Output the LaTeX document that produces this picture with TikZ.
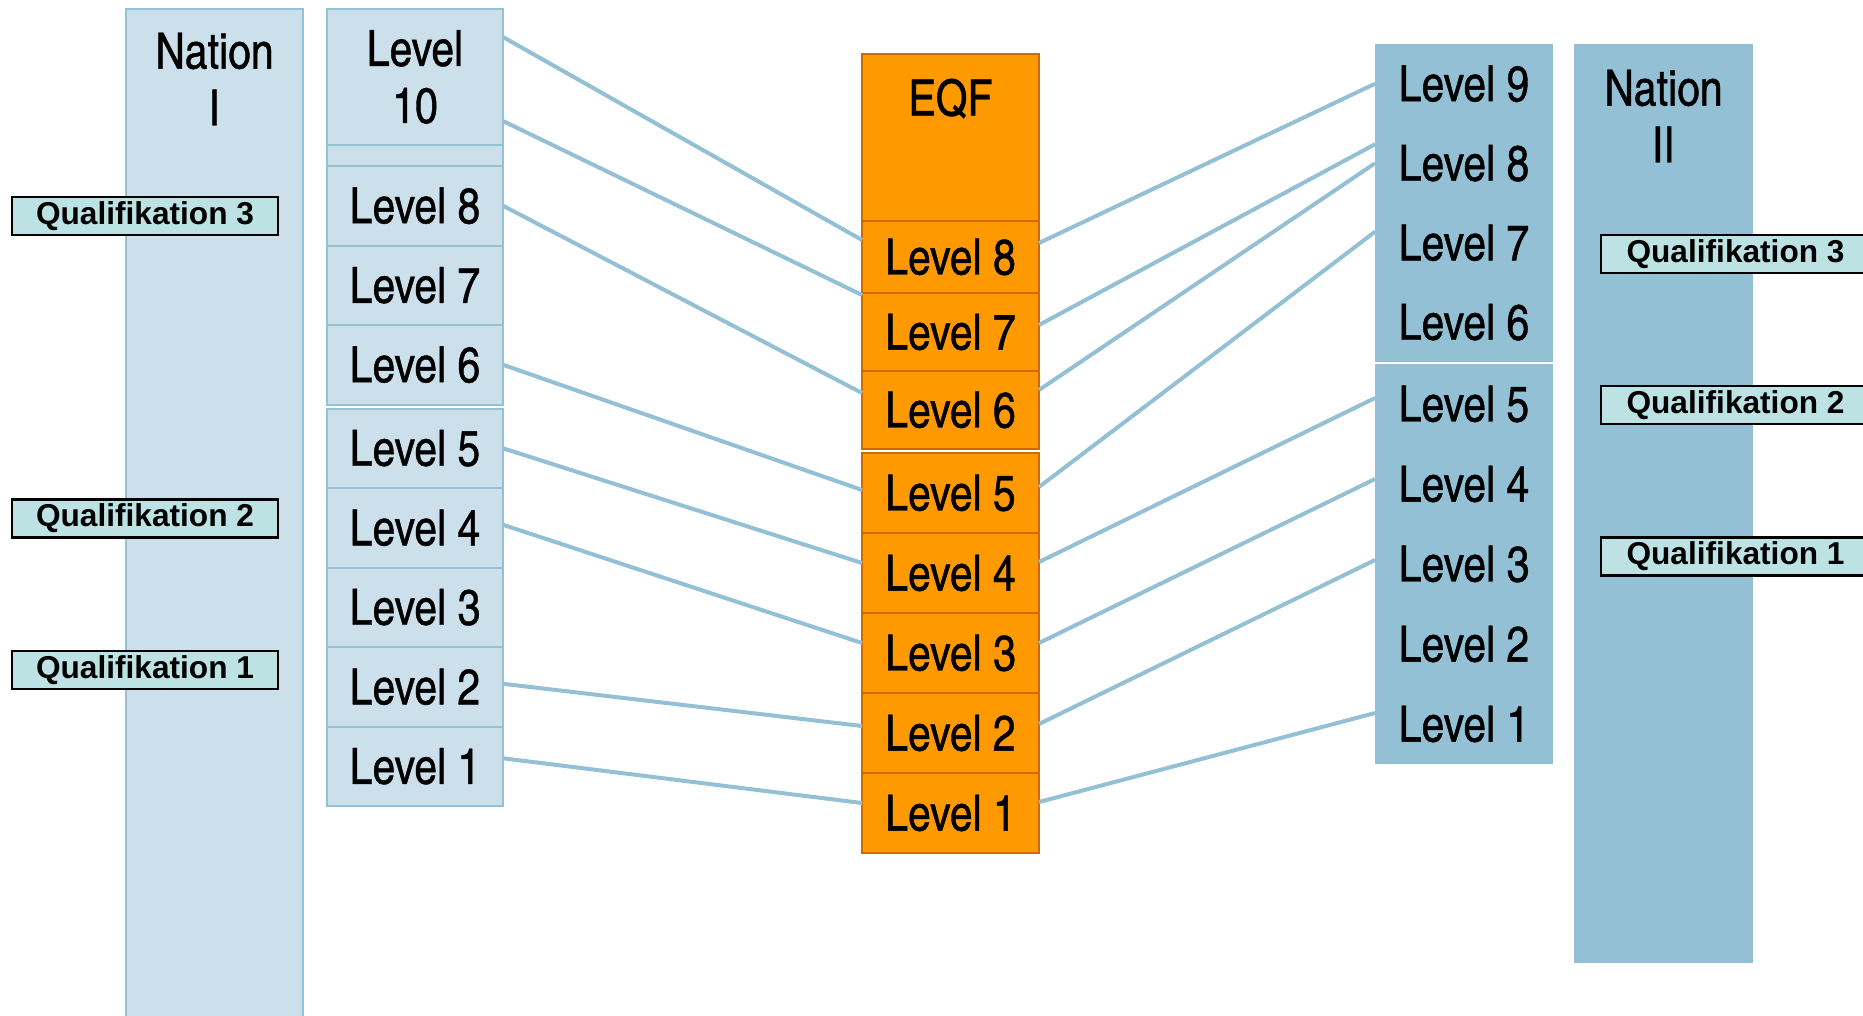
\documentclass[tikz,border=0pt]{standalone}
\usepackage{fontspec}
\setmainfont{Liberation Sans}
\newfontfamily\levelfont[Extension=.otf, FakeBold=0.8]{texgyreheroscn-regular}
\usepackage{xcolor}
\usepackage{tikz}
\usetikzlibrary{positioning}

\definecolor{paleblue}{HTML}{CCE0EB}
\definecolor{edgeblue}{HTML}{93C1D6}
\definecolor{deepblue}{HTML}{93C0D5}
\definecolor{eqforange}{HTML}{FF9900}
\definecolor{eqfedge}{HTML}{D06A00}
\definecolor{qualfill}{HTML}{BCE2E4}

\begin{document}
\begin{tikzpicture}[
    nationI/.style={rectangle, draw=edgeblue, fill=paleblue, line width=0.2mm, minimum width=1.77cm, outer sep=0pt, inner sep=0pt},
    nationII/.style={rectangle, fill=deepblue, minimum width=1.79cm, outer sep=0pt, inner sep=0pt},
    headtext/.style={inner sep=0pt, align=center, font=\levelfont\fontsize{14.2}{16.2}\selectfont},
    levelI/.style={rectangle, draw=edgeblue, fill=paleblue, line width=0.2mm, minimum width=1.76cm, minimum height=0.795cm, outer sep=0pt, inner sep=0pt, align=center, font=\levelfont\fontsize{14.2}{16.2}\selectfont},
    levelII/.style={rectangle, fill=deepblue, minimum width=1.78cm, minimum height=0.8cm, outer sep=0pt, inner sep=0pt, font=\levelfont\fontsize{14.2}{16.2}\selectfont},
    eqflevel/.style={rectangle, draw=eqfedge, fill=eqforange, line width=0.2mm, minimum width=1.77cm, minimum height=0.8cm, outer sep=0pt, inner sep=0pt, font=\levelfont\fontsize{14.2}{16.2}\selectfont},
    qual/.style={rectangle, draw=black, fill=qualfill, line width=0.25mm, minimum height=0.38cm, inner sep=0pt, font=\bfseries\fontsize{9}{10}\selectfont},
    link/.style={deepblue, line width=0.4mm},
]
\useasboundingbox (0,0) rectangle (18.63,-10.15);

% === NATION I (left) ===
\node[nationI, minimum height=10.3cm, anchor=north] (natI) at (2.145,-0.09) {};
\node[headtext, below=0.23cm of natI.north] (natItext) {Nation\\I};

% --- levels of nation I ---
\node[levelI, minimum height=1.36cm, anchor=north] (l10) at (4.15,-0.09) {Level\\10};
\node[levelI, minimum height=0.21cm, below=0cm of l10] (l9) {};
\node[levelI, below=0cm of l9] (l8) {Level 8};
\node[levelI, below=0cm of l8] (l7) {Level 7};
\node[levelI, below=0cm of l7] (l6) {Level 6};
\node[levelI, below=0.04cm of l6] (l5) {Level 5};
\node[levelI, below=0cm of l5] (l4) {Level 4};
\node[levelI, below=0cm of l4] (l3) {Level 3};
\node[levelI, below=0cm of l3] (l2) {Level 2};
\node[levelI, below=0cm of l2] (l1) {Level 1};

% --- qualifications of nation I ---
\node[qual, minimum width=2.66cm] (q3I) at (1.45,-2.16) {Qualifikation 3};
\node[qual, minimum width=2.66cm] (q2I) at (1.45,-5.185) {Qualifikation 2};
\node[qual, minimum width=2.66cm] (q1I) at (1.45,-6.70) {Qualifikation 1};

% === EQF (middle) ===
\node[eqflevel, minimum height=1.67cm, anchor=north] (eqf) at (9.505,-0.54) {};
\node[headtext, below=0.24cm of eqf.north] (eqftext) {EQF};
\node[eqflevel, minimum height=0.72cm, below=0cm of eqf] (e8) {Level 8};
\node[eqflevel, minimum height=0.78cm, below=0cm of e8] (e7) {Level 7};
\node[eqflevel, minimum height=0.78cm, below=0cm of e7] (e6) {Level 6};
\node[eqflevel, below=0.04cm of e6] (e5) {Level 5};
\node[eqflevel, below=0cm of e5] (e4) {Level 4};
\node[eqflevel, below=0cm of e4] (e3) {Level 3};
\node[eqflevel, below=0cm of e3] (e2) {Level 2};
\node[eqflevel, below=0cm of e2] (e1) {Level 1};

% === NATION II (right) ===
\node[nationII, minimum height=9.19cm, anchor=north] (natII) at (16.635,-0.44) {};
\node[headtext, below=0.25cm of natII.north] (natIItext) {Nation\\II};

% --- levels of nation II ---
\node[levelII, minimum height=0.795cm, anchor=north] (r9) at (14.64,-0.44) {Level 9};
\node[levelII, minimum height=0.795cm, below=0cm of r9] (r8) {Level 8};
\node[levelII, minimum height=0.795cm, below=0cm of r8] (r7) {Level 7};
\node[levelII, minimum height=0.795cm, below=0cm of r7] (r6) {Level 6};
\node[levelII, below=0.02cm of r6] (r5) {Level 5};
\node[levelII, below=0cm of r5] (r4) {Level 4};
\node[levelII, below=0cm of r4] (r3) {Level 3};
\node[levelII, below=0cm of r3] (r2) {Level 2};
\node[levelII, below=0cm of r2] (r1) {Level 1};

% --- qualifications of nation II (cut by the right edge) ---
\node[qual, minimum width=2.69cm] (q3II) at (17.355,-2.54) {Qualifikation 3};
\node[qual, minimum width=2.69cm] (q2II) at (17.355,-4.05) {Qualifikation 2};
\node[qual, minimum width=2.69cm] (q1II) at (17.355,-5.565) {Qualifikation 1};

% =======================================================================
% LINKS
% =======================================================================

% --- nation I -> EQF ---
\draw[link] ([yshift=4mm]l10.east) -- ([yshift=1.7mm]e8.west);
\draw[link] ([yshift=-4.4mm]l10.east) -- ([yshift=3.7mm]e7.west);
\draw[link] (l8.east) -- ([yshift=1.7mm]e6.west);
\draw[link] (l6.east) -- ([yshift=0.3mm]e5.west);
\draw[link] (l5.east) -- ([yshift=1mm]e4.west);
\draw[link] ([yshift=0.3mm]l4.east) -- ([yshift=1mm]e3.west);
\draw[link] ([yshift=0.3mm]l2.east) -- ([yshift=0.7mm]e2.west);
\draw[link] ([yshift=0.8mm]l1.east) -- ([yshift=1mm]e1.west);

% --- EQF -> nation II ---
\draw[link] ([yshift=1.4mm]e8.east) -- (r9.west);
\draw[link] ([yshift=0.7mm]e7.east) -- ([yshift=1.9mm]r8.west);
\draw[link] ([yshift=2mm]e6.east) -- (r8.west);
\draw[link] ([yshift=0.6mm]e5.east) -- ([yshift=1.1mm]r7.west);
\draw[link] ([yshift=1.1mm]e4.east) -- ([yshift=0.6mm]r5.west);
\draw[link] ([yshift=1mm]e3.east) -- ([yshift=0.5mm]r4.west);
\draw[link] ([yshift=0.9mm]e2.east) -- ([yshift=0.4mm]r3.west);
\draw[link] ([yshift=1.1mm]e1.east) -- ([yshift=1.1mm]r1.west);

\end{tikzpicture}
\end{document}
